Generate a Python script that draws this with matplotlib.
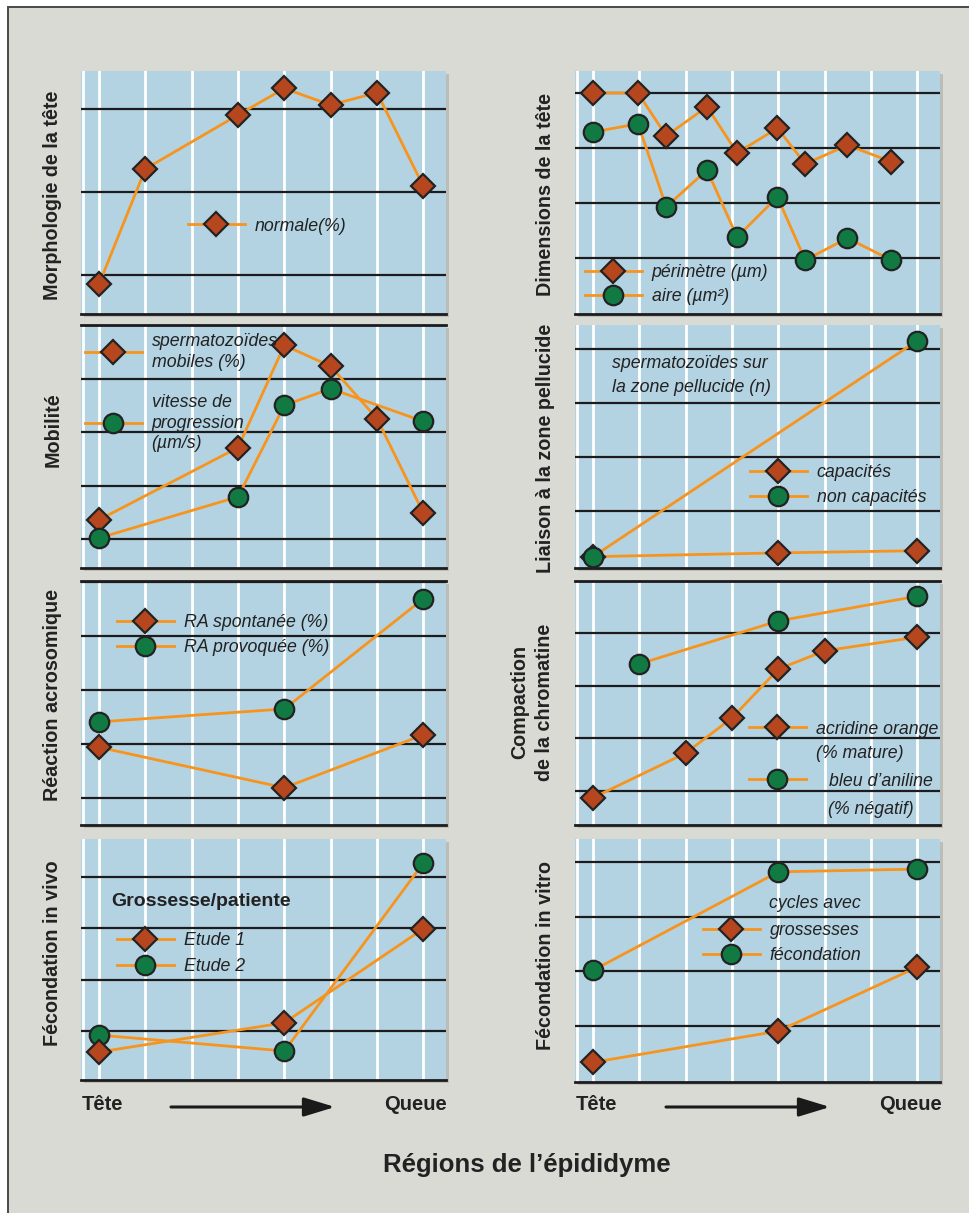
import matplotlib.pyplot as plt
from matplotlib.lines import Line2D
from matplotlib.legend import Legend
from matplotlib.patches import Rectangle, FancyArrowPatch
from matplotlib.font_manager import FontProperties

plt.rcParams['font.family'] = ['Liberation Sans', 'DejaVu Sans']

# data (arbitrary units, grid lines sit on whole numbers)
morpho_x = [0, 1, 3, 4, 5, 6, 7]
morpho_normale = [0.89, 2.28, 2.93, 3.25, 3.05, 3.20, 2.07]

dim_x = [0, 0.97, 1.58, 2.46, 3.11, 3.98, 4.58, 5.49, 6.44]
dim_perimetre = [4.0, 4.0, 3.22, 3.75, 2.91, 3.36, 2.71, 3.05, 2.75]
dim_aire = [3.29, 3.44, 1.93, 2.60, 1.38, 2.11, 0.96, 1.36, 0.96]

mob_x_mobiles = [0, 3, 4, 5, 6, 7]
mob_mobiles = [1.36, 2.71, 4.62, 4.23, 3.25, 1.49]
mob_x_vitesse = [0, 3, 4, 5, 7]
mob_vitesse = [1.02, 1.79, 3.50, 3.81, 3.20]

zp_x_cap = [0, 4, 7]
zp_capacites = [0.15, 0.22, 0.26]
zp_x_non = [0, 7]
zp_non_capacites = [0.15, 4.15]

ra_x = [0, 4, 7]
ra_spontanee = [1.94, 1.19, 2.17]
ra_provoquee = [2.41, 2.65, 4.69]

chrom_x_ao = [0, 2, 3, 4, 5, 7]
chrom_acridine = [0.87, 1.72, 2.39, 3.32, 3.67, 3.93]
chrom_x_ba = [1, 4, 7]
chrom_aniline = [3.42, 4.24, 4.71]

vivo_x = [0, 4, 7]
vivo_etude1 = [0.59, 1.16, 2.99]
vivo_etude2 = [0.92, 0.61, 4.27]

vitro_x = [0, 4, 7]
vitro_grossesses = [0.34, 0.91, 2.08]
vitro_fecondation = [2.02, 3.82, 3.87]

# styles
W, H = 970, 1213
ORANGE = '#f7941d'
RUST = '#b5461d'
GREEN = '#107a42'
EDGE = '#222222'
PANEL = '#b4d3e2'
BG = '#d9dad4'
INK = '#1c1c1c'
TXT = '#222222'
DIAMOND = dict(marker='D', markersize=12.5, markerfacecolor=RUST, markeredgecolor=EDGE, markeredgewidth=1.6)
CIRCLE = dict(marker='o', markersize=14, markerfacecolor=GREEN, markeredgecolor=EDGE, markeredgewidth=1.6)
ITALIC = FontProperties(family=['Liberation Sans', 'DejaVu Sans'], style='italic', size=12.8)

fig = plt.figure(figsize=(W / 100, H / 100), dpi=100)
fig.patch.set_facecolor('white')
fig.patches.append(Rectangle((8 / W, -0.01), 1.02, 1 - 7 / H + 0.01, transform=fig.transFigure,
                             facecolor=BG, edgecolor='#4a4a4a', lw=1.4, zorder=-2))


def fx(x):
    return x / W


def fy(y):
    return 1 - y / H


def panel(x0, y0, x1, y1, ylim, levels, top_line=False):
    fig.patches.append(Rectangle((fx(x0 + 3), fy(y1 + 3)), (x1 - x0) / W, (y1 - y0) / H,
                                 transform=fig.transFigure, facecolor='#bcbdb8', zorder=-1))
    ax = fig.add_axes([fx(x0), fy(y1), (x1 - x0) / W, (y1 - y0) / H])
    ax.set_facecolor(PANEL)
    ax.set_xlim(-0.39, 7.49)
    ax.set_ylim(*ylim)
    ax.set_xticks([-0.35] + list(range(8)))
    ax.set_yticks(levels)
    ax.xaxis.grid(True, color='white', lw=2)
    ax.yaxis.grid(True, color=INK, lw=1.6)
    ax.set_axisbelow(True)
    ax.tick_params(length=0, labelbottom=False, labelleft=False)
    for s in ['left', 'right', 'top']:
        ax.spines[s].set_visible(False)
    ax.spines['bottom'].set_color(INK)
    ax.spines['bottom'].set_linewidth(2)
    if top_line:
        ax.spines['top'].set_visible(True)
        ax.spines['top'].set_color(INK)
        ax.spines['top'].set_linewidth(2)
    return ax


def series(ax, x, y, style, z):
    ax.plot(x, y, color=ORANGE, lw=2, zorder=2, solid_capstyle='round')
    ax.plot(x, y, ls='none', zorder=z, **style)


def key(ax, styles, labels, x, y, spacing=0.45, pad=0.55, linesp=None):
    handles = [Line2D([], [], color=ORANGE, lw=2, **s) for s in styles]
    leg = Legend(ax, handles, labels, loc='center left', bbox_to_anchor=(fx(x), fy(y)),
                 bbox_transform=fig.transFigure, frameon=False, prop=ITALIC, handlelength=3.2,
                 handletextpad=pad, borderpad=0, borderaxespad=0, labelspacing=spacing, numpoints=1)
    for t in leg.get_texts():
        t.set_color(TXT)
        if linesp:
            t.set_linespacing(linesp)
    ax.add_artist(leg)


def note(x, y, s, **kw):
    fig.text(fx(x), fy(y), s, fontproperties=ITALIC, color=TXT, va='center', **kw)


LEFT = (81, 446)
RIGHT = (575, 940)

# Morphologie de la tete
ax = panel(LEFT[0], 71, LEFT[1], 314, (0.53, 3.46), [1, 2, 3])
series(ax, morpho_x, morpho_normale, DIAMOND, 3)
key(ax, [DIAMOND], ['normale(%)'], 188, 226)

# Dimensions de la tete
ax = panel(RIGHT[0], 71, RIGHT[1], 314, (-0.02, 4.4), [1, 2, 3, 4])
series(ax, dim_x, dim_aire, CIRCLE, 3)
series(ax, dim_x, dim_perimetre, DIAMOND, 4)
key(ax, [DIAMOND, CIRCLE], ['périmètre (µm)', 'aire (µm²)'], 585, 284.5, spacing=0.4)

# Mobilite
ax = panel(LEFT[0], 325, LEFT[1], 568, (0.46, 5.0), [1, 2, 3, 4, 5], top_line=True)
series(ax, mob_x_mobiles, mob_mobiles, DIAMOND, 3)
series(ax, mob_x_vitesse, mob_vitesse, CIRCLE, 4)
key(ax, [DIAMOND], ['spermatozoïdes\nmobiles (%)'], 85, 352, linesp=1.3)
key(ax, [CIRCLE], ['vitesse de\nprogression\n(µm/s)'], 85, 423, linesp=1.3)

# Liaison a la zone pellucide
ax = panel(RIGHT[0], 325, RIGHT[1], 568, (-0.06, 4.44), [1, 2, 3, 4])
series(ax, zp_x_cap, zp_capacites, DIAMOND, 3)
series(ax, zp_x_non, zp_non_capacites, CIRCLE, 4)
key(ax, [DIAMOND, CIRCLE], ['capacités', 'non capacités'], 750, 485)
note(612, 375.5, 'spermatozoïdes sur\nla zone pellucide (n)', linespacing=1.55)

# Reaction acrosomique
ax = panel(LEFT[0], 581, LEFT[1], 825, (0.5, 5.02), [1, 2, 3, 4, 5], top_line=True)
series(ax, ra_x, ra_provoquee, CIRCLE, 3)
series(ax, ra_x, ra_spontanee, DIAMOND, 4)
key(ax, [DIAMOND, CIRCLE], ['RA spontanée (%)', 'RA provoquée (%)'], 117, 635)

# Compaction de la chromatine
ax = panel(RIGHT[0], 581, RIGHT[1], 825, (0.35, 5.0), [1, 2, 3, 4, 5], top_line=True)
series(ax, chrom_x_ba, chrom_aniline, CIRCLE, 3)
series(ax, chrom_x_ao, chrom_acridine, DIAMOND, 4)
key(ax, [DIAMOND], ['acridine orange'], 749, 729)
key(ax, [CIRCLE], ['bleu d\u2019aniline'], 749, 781, pad=1.3)
note(816, 754, '(% mature)')
note(828, 809, '(% négatif)')

# Fecondation in vivo
ax = panel(LEFT[0], 839, LEFT[1], 1080, (0.045, 4.74), [1, 2, 3, 4])
series(ax, vivo_x, vivo_etude2, CIRCLE, 3)
series(ax, vivo_x, vivo_etude1, DIAMOND, 4)
key(ax, [DIAMOND, CIRCLE], ['Etude 1', 'Etude 2'], 117, 953.5, spacing=0.5)
fig.text(fx(111), fy(901), 'Grossesse/patiente', fontsize=14, fontweight='bold', color=TXT, va='center')

# Fecondation in vitro
ax = panel(RIGHT[0], 839, RIGHT[1], 1082, (-0.02, 4.42), [1, 2, 3, 4])
series(ax, vitro_x, vitro_fecondation, CIRCLE, 3)
series(ax, vitro_x, vitro_grossesses, DIAMOND, 4)
key(ax, [DIAMOND, CIRCLE], ['grossesses', 'fécondation'], 703, 943)
note(769, 903, 'cycles avec')

# row labels
BOLD = dict(fontsize=14.2, fontweight='bold', color=TXT, rotation=90, ha='center', va='center')
fig.text(fx(53), fy(195), 'Morphologie de la tête', **BOLD)
fig.text(fx(53), fy(430), 'Mobilité', **BOLD)
fig.text(fx(53), fy(695), 'Réaction acrosomique', **BOLD)
fig.text(fx(53), fy(953), 'Fécondation in vivo', **BOLD)
fig.text(fx(546), fy(195), 'Dimensions de la tête', **BOLD)
fig.text(fx(546), fy(448), 'Liaison à la zone pellucide', **BOLD)
fig.text(fx(532), fy(702), 'Compaction\nde la chromatine', linespacing=1.4, **BOLD)
fig.text(fx(546), fy(956), 'Fécondation in vitro', **BOLD)

# Tete -> Queue under each column
for left, right, a0, a1 in [(82, 447, 171, 335), (576, 942, 666, 830)]:
    fig.text(fx(left), fy(1110), 'Tête', fontsize=14.5, fontweight='bold', color=TXT, va='baseline')
    fig.text(fx(right), fy(1110), 'Queue', fontsize=14.5, fontweight='bold', color=TXT,
             va='baseline', ha='right')
    fig.patches.append(FancyArrowPatch((fx(a0), fy(1107)), (fx(a1), fy(1107)), transform=fig.transFigure,
                                       arrowstyle='-|>,head_length=1.9,head_width=0.58', mutation_scale=10,
                                       lw=2.2, color='#1a1a1a', shrinkA=0, shrinkB=0))

fig.text(fx(527), fy(1172), 'Régions de l\u2019épididyme', fontsize=18.5, fontweight='bold',
         color=TXT, ha='center', va='baseline')

plt.savefig('out.png', dpi=100, facecolor=fig.get_facecolor())
